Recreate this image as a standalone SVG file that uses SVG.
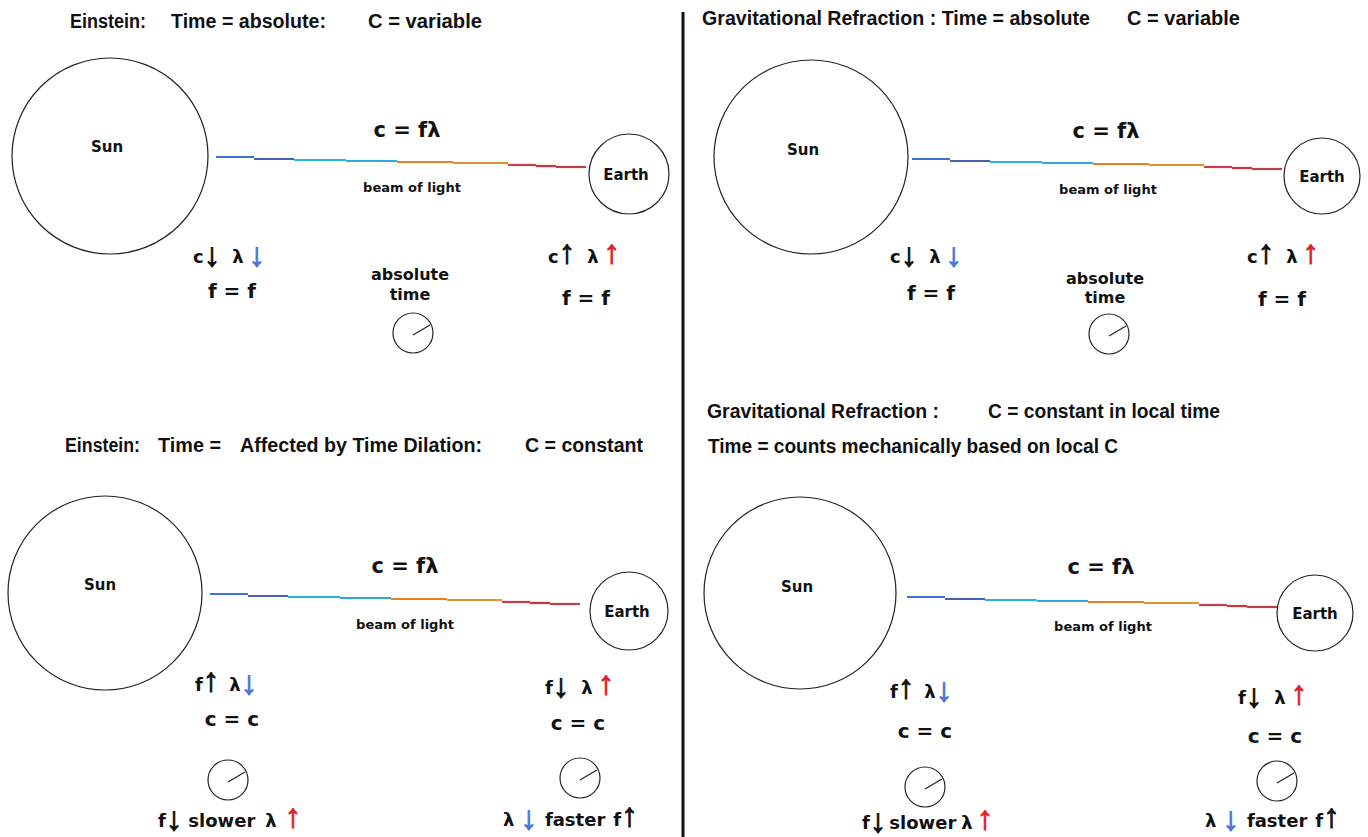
<svg xmlns="http://www.w3.org/2000/svg" xmlns:xlink="http://www.w3.org/1999/xlink" width="1368" height="837" viewBox="0 0 1368 837">
<style>
text{font-family:"DejaVu Sans","Liberation Sans",sans-serif;font-weight:bold;fill:#111}
.title{font-family:"Liberation Sans",Arial,sans-serif;font-size:20px}
.big{font-size:20px;text-anchor:middle}
.lbl{font-size:15px;text-anchor:middle}
.abs{font-size:16px;text-anchor:middle}
.beamlbl{font-size:13px;text-anchor:middle}
.eq{font-size:21px;text-anchor:middle}
.ar{font-size:18px}
.a{font-family:"Liberation Sans",Arial,sans-serif;font-size:33px;font-weight:bold;stroke:#111;stroke-width:1}
.body{fill:none;stroke:#222;stroke-width:1.2}
.blue{fill:#4a78d8;stroke:#4a78d8}
.red{fill:#e01e2a;stroke:#e01e2a}
</style>
<defs>
<g id="beam" fill="none" stroke-width="2.2">
<path d="M0 0H38" stroke="#3d6fd4"/>
<path d="M38 2H78" stroke="#4a5fb0"/>
<path d="M78 3H130" stroke="#28b4e0"/>
<path d="M130 4H181" stroke="#30a8d8"/>
<path d="M181 5H237" stroke="#f07d1c"/>
<path d="M237 6H292" stroke="#e0952c"/>
<path d="M292 8H320" stroke="#c84050"/>
<path d="M320 9H340" stroke="#d83038"/>
<path d="M340 10H370" stroke="#b84048"/>
</g>
<g id="clock">
<circle r="20" fill="none" stroke="#222" stroke-width="1.2"/>
<path d="M0 2L17 -8" stroke="#222" stroke-width="1.2"/>
</g>
</defs>
<rect width="1368" height="837" fill="#fff"/>
<g id="connectors">
<use xlink:href="#beam" x="216" y="157"/>
<use xlink:href="#beam" x="912" y="159"/>
<use xlink:href="#beam" x="210" y="594"/>
<use xlink:href="#beam" x="907" y="597"/>
</g>
<path id="divider" d="M683 12V837" stroke="#111" stroke-width="3"/>

<!-- Top-left panel -->
<g id="tl-title">
<text class="title" x="70" y="28" textLength="76" lengthAdjust="spacingAndGlyphs">Einstein:</text>
<text class="title" x="171" y="28" textLength="155" lengthAdjust="spacingAndGlyphs">Time = absolute:</text>
<text class="title" x="368" y="28" textLength="114" lengthAdjust="spacingAndGlyphs">C = variable</text>
</g>
<g id="tl-sun"><circle class="body" cx="110" cy="156" r="98"/><text class="lbl" x="107" y="152">Sun</text></g>
<g id="tl-earth"><circle class="body" cx="629" cy="174" r="40"/><text class="lbl" x="626" y="180">Earth</text></g>
<g id="tl-eq"><text class="eq" x="407" y="137">c = fλ</text><text class="beamlbl" x="412" y="192">beam of light</text></g>
<g id="tl-sunstate">
<text class="ar" x="193" y="263">c<tspan class="a" dy="3">↓</tspan><tspan dx="12" dy="-3">λ</tspan><tspan class="a blue" dx="5" dy="3">↓</tspan></text>
<text class="big" x="232" y="298">f = f</text>
</g>
<g id="tl-time"><text class="abs" x="410" y="280">absolute</text><text class="abs" x="410" y="300">time</text><use xlink:href="#clock" x="413" y="333"/></g>
<g id="tl-earthstate">
<text class="ar" x="548" y="263">c<tspan class="a">↑</tspan><tspan dx="12">λ</tspan><tspan class="a red" dx="5">↑</tspan></text>
<text class="big" x="586" y="305">f = f</text>
</g>

<!-- Top-right panel -->
<g id="tr-title">
<text class="title" x="702" y="25" textLength="388" lengthAdjust="spacingAndGlyphs">Gravitational Refraction : Time = absolute</text>
<text class="title" x="1127" y="25" textLength="113" lengthAdjust="spacingAndGlyphs">C = variable</text>
</g>
<g id="tr-sun"><circle class="body" cx="811" cy="157" r="97"/><text class="lbl" x="803" y="155">Sun</text></g>
<g id="tr-earth"><circle class="body" cx="1322" cy="176" r="38"/><text class="lbl" x="1322" y="182">Earth</text></g>
<g id="tr-eq"><text class="eq" x="1106" y="138">c = fλ</text><text class="beamlbl" x="1108" y="194">beam of light</text></g>
<g id="tr-sunstate">
<text class="ar" x="890" y="263">c<tspan class="a" dy="3">↓</tspan><tspan dx="12" dy="-3">λ</tspan><tspan class="a blue" dx="5" dy="3">↓</tspan></text>
<text class="big" x="931" y="300">f = f</text>
</g>
<g id="tr-time"><text class="abs" x="1105" y="284">absolute</text><text class="abs" x="1105" y="303">time</text><use xlink:href="#clock" x="1109" y="334"/></g>
<g id="tr-earthstate">
<text class="ar" x="1247" y="263">c<tspan class="a">↑</tspan><tspan dx="12">λ</tspan><tspan class="a red" dx="5">↑</tspan></text>
<text class="big" x="1282" y="306">f = f</text>
</g>

<!-- Bottom-left panel -->
<g id="bl-title">
<text class="title" x="65" y="452" textLength="75" lengthAdjust="spacingAndGlyphs">Einstein:</text>
<text class="title" x="158" y="452" textLength="63" lengthAdjust="spacingAndGlyphs">Time =</text>
<text class="title" x="240" y="452" textLength="242" lengthAdjust="spacingAndGlyphs">Affected by  Time Dilation:</text>
<text class="title" x="525" y="452" textLength="118" lengthAdjust="spacingAndGlyphs">C = constant</text>
</g>
<g id="bl-sun"><circle class="body" cx="105" cy="593" r="97"/><text class="lbl" x="100" y="590">Sun</text></g>
<g id="bl-earth"><circle class="body" cx="629" cy="611" r="39"/><text class="lbl" x="627" y="617">Earth</text></g>
<g id="bl-eq"><text class="eq" x="405" y="573">c = fλ</text><text class="beamlbl" x="405" y="629">beam of light</text></g>
<g id="bl-sunstate">
<text class="ar" x="195" y="691">f<tspan class="a">↑</tspan><tspan dx="10">λ</tspan><tspan class="a blue" dy="3">↓</tspan></text>
<text class="big" x="232" y="726">c = c</text>
<use xlink:href="#clock" x="228" y="780"/>
<text class="ar" x="158" y="827">f<tspan class="a" dy="3">↓</tspan><tspan dx="6" dy="-3">slower</tspan><tspan dx="10">λ</tspan><tspan class="a red" dx="8">↑</tspan></text>
</g>
<g id="bl-earthstate">
<text class="ar" x="545" y="694">f<tspan class="a" dy="3">↓</tspan><tspan dx="12" dy="-3">λ</tspan><tspan class="a red" dx="5">↑</tspan></text>
<text class="big" x="578" y="730">c = c</text>
<use xlink:href="#clock" x="580" y="778"/>
<text class="ar" x="503" y="826">λ<tspan class="a blue" dx="6" dy="3">↓</tspan><tspan dx="8" dy="-3">faster</tspan><tspan dx="8">f</tspan><tspan class="a">↑</tspan></text>
</g>

<!-- Bottom-right panel -->
<g id="br-title">
<text class="title" x="707" y="418" textLength="232" lengthAdjust="spacingAndGlyphs">Gravitational Refraction :</text>
<text class="title" x="988" y="418" textLength="232" lengthAdjust="spacingAndGlyphs">C = constant  in local time</text>
<text class="title" x="708" y="453" textLength="410" lengthAdjust="spacingAndGlyphs">Time =  counts mechanically based on local C</text>
</g>
<g id="br-sun"><circle class="body" cx="800" cy="593" r="96"/><text class="lbl" x="797" y="592">Sun</text></g>
<g id="br-earth"><circle class="body" cx="1315" cy="613" r="38"/><text class="lbl" x="1315" y="619">Earth</text></g>
<g id="br-eq"><text class="eq" x="1101" y="574">c = fλ</text><text class="beamlbl" x="1103" y="631">beam of light</text></g>
<g id="br-sunstate">
<text class="ar" x="890" y="698">f<tspan class="a">↑</tspan><tspan dx="10">λ</tspan><tspan class="a blue" dy="3">↓</tspan></text>
<text class="big" x="925" y="738">c = c</text>
<use xlink:href="#clock" x="925" y="787"/>
<text class="ar" x="862" y="829">f<tspan class="a" dy="3">↓</tspan><tspan dx="3" dy="-3">slower</tspan><tspan dx="5">λ</tspan><tspan class="a red" dx="4">↑</tspan></text>
</g>
<g id="br-earthstate">
<text class="ar" x="1238" y="704">f<tspan class="a" dy="3">↓</tspan><tspan dx="12" dy="-3">λ</tspan><tspan class="a red" dx="5">↑</tspan></text>
<text class="big" x="1275" y="743">c = c</text>
<use xlink:href="#clock" x="1277" y="781"/>
<text class="ar" x="1205" y="827">λ<tspan class="a blue" dx="6" dy="3">↓</tspan><tspan dx="8" dy="-3">faster</tspan><tspan dx="8">f</tspan><tspan class="a">↑</tspan></text>
</g>
</svg>
